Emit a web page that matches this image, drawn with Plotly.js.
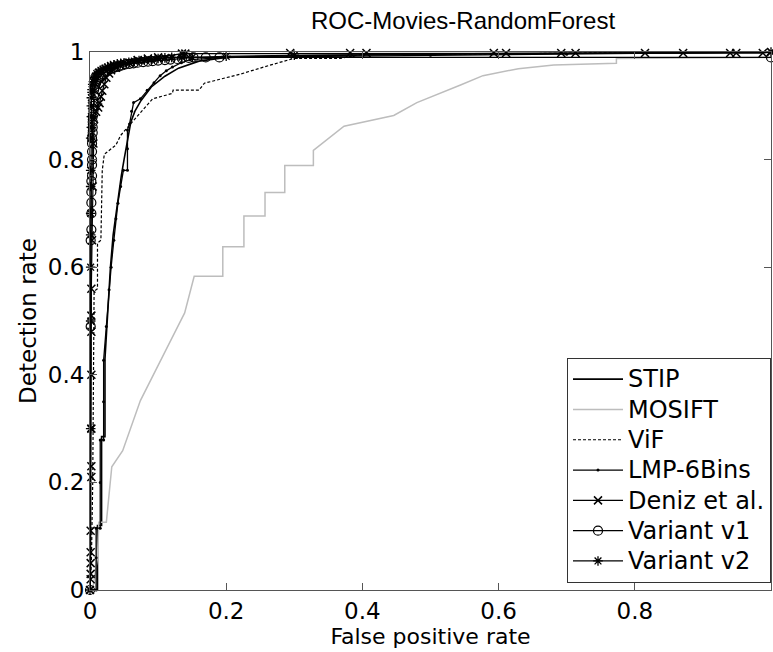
<!DOCTYPE html>
<html>
<head>
<meta charset="utf-8">
<script src="https://cdn.plot.ly/plotly-3.0.1.min.js"></script>
<style>html,body{margin:0;padding:0;background:#fff;}#chart{width:773px;height:652px;}</style>
</head>
<body>
<div id="chart"></div>
<script>
// ---- data ----
const tickVals = [0, 0.2, 0.4, 0.6, 0.8, 1];
const tickText = ['0', '0.2', '0.4', '0.6', '0.8', '1'];
const seriesNames = ['STIP', 'MOSIFT', 'ViF', 'LMP-6Bins', 'Deniz et al.', 'Variant v1', 'Variant v2'];

const stipX = [0, 0.011, 0.011, 0.017, 0.017, 0.022, 0.022, 0.026, 0.030, 0.034, 0.040, 0.046, 0.050, 0.056, 0.060, 0.066, 0.075, 0.090, 0.110, 0.130, 0.160, 0.200, 0.300, 0.500, 1];
const stipY = [0, 0, 0.120, 0.120, 0.285, 0.285, 0.430, 0.520, 0.600, 0.660, 0.720, 0.770, 0.800, 0.840, 0.870, 0.890, 0.910, 0.935, 0.955, 0.970, 0.983, 0.990, 0.993, 0.996, 1];

const mosiftX = [0, 0.005, 0.011, 0.013, 0.024, 0.032, 0.048, 0.074, 0.111, 0.139, 0.153, 0.195, 0.195, 0.226, 0.226, 0.257, 0.257, 0.286, 0.286, 0.328, 0.328, 0.373, 0.446, 0.480, 0.545, 0.577, 0.629, 0.681, 0.773, 0.773, 1.0, 1];
const mosiftY = [0, 0.010, 0.060, 0.126, 0.126, 0.229, 0.259, 0.352, 0.445, 0.515, 0.583, 0.583, 0.638, 0.638, 0.695, 0.695, 0.739, 0.739, 0.789, 0.789, 0.817, 0.862, 0.882, 0.906, 0.939, 0.956, 0.969, 0.976, 0.979, 0.988, 0.990, 1];

const vifX = [0, 0.002, 0.004, 0.005, 0.006, 0.011, 0.011, 0.016, 0.018, 0.021, 0.038, 0.045, 0.053, 0.069, 0.092, 0.121, 0.122, 0.160, 0.168, 0.221, 0.263, 0.299, 0.367, 0.400, 0.600, 0.700, 1];
const vifY = [0, 0.050, 0.200, 0.400, 0.555, 0.560, 0.645, 0.650, 0.780, 0.810, 0.827, 0.845, 0.857, 0.880, 0.913, 0.923, 0.929, 0.929, 0.942, 0.959, 0.975, 0.988, 0.988, 0.996, 0.996, 0.998, 1];

const lmpX = [0, 0.009, 0.009, 0.009, 0.015, 0.015, 0.015, 0.020, 0.020, 0.020, 0.024, 0.028, 0.031, 0.035, 0.038, 0.041, 0.045, 0.049, 0.055, 0.055, 0.055, 0.058, 0.061, 0.064, 0.074, 0.084, 0.094, 0.103, 0.112, 0.121, 0.134, 0.147, 0.200, 0.350, 0.500, 0.700, 1];
const lmpY = [0, 0, 0.060, 0.115, 0.115, 0.200, 0.279, 0.279, 0.350, 0.427, 0.490, 0.558, 0.600, 0.650, 0.690, 0.719, 0.750, 0.780, 0.780, 0.820, 0.855, 0.866, 0.890, 0.906, 0.913, 0.929, 0.943, 0.956, 0.965, 0.972, 0.980, 0.986, 0.990, 0.992, 0.994, 0.996, 1];

const denizX = [0, 0.001, 0.001, 0.001, 0.001, 0.001, 0.002, 0.002, 0.002, 0.002, 0.002, 0.002, 0.002, 0.003, 0.004, 0.005, 0.006, 0.009, 0.012, 0.014, 0.016, 0.018, 0.021, 0.024, 0.028, 0.031, 0.038, 0.045, 0.058, 0.070, 0.085, 0.100, 0.135, 0.140, 0.294, 0.382, 0.406, 0.593, 0.611, 0.692, 0.713, 0.815, 0.871, 0.940, 0.949, 0.988, 1];
const denizY = [0, 0.020, 0.030, 0.050, 0.070, 0.110, 0.210, 0.230, 0.300, 0.400, 0.480, 0.510, 0.560, 0.650, 0.750, 0.830, 0.875, 0.889, 0.897, 0.905, 0.917, 0.928, 0.940, 0.952, 0.960, 0.966, 0.971, 0.975, 0.980, 0.985, 0.988, 0.990, 0.997, 0.997, 0.998, 0.998, 0.998, 0.998, 0.998, 0.998, 0.998, 0.998, 0.998, 0.998, 0.998, 0.998, 1];

const v1X = [0, 0.001, 0.001, 0.002, 0.002, 0.002, 0.002, 0.002, 0.003, 0.003, 0.003, 0.003, 0.003, 0.003, 0.004, 0.004, 0.004, 0.004, 0.005, 0.005, 0.005, 0.006, 0.006, 0.007, 0.008, 0.009, 0.010, 0.012, 0.014, 0.016, 0.019, 0.022, 0.026, 0.030, 0.034, 0.038, 0.042, 0.047, 0.052, 0.058, 0.064, 0.070, 0.078, 0.085, 0.092, 0.100, 0.110, 0.118, 0.128, 0.135, 0.145, 0.152, 0.170, 0.190, 1];
const v1Y = [0, 0.490, 0.650, 0.670, 0.700, 0.720, 0.740, 0.760, 0.770, 0.790, 0.800, 0.815, 0.830, 0.840, 0.850, 0.860, 0.870, 0.880, 0.890, 0.900, 0.910, 0.920, 0.930, 0.935, 0.940, 0.943, 0.946, 0.950, 0.953, 0.956, 0.959, 0.962, 0.965, 0.968, 0.970, 0.972, 0.973, 0.975, 0.977, 0.978, 0.979, 0.980, 0.981, 0.982, 0.983, 0.984, 0.985, 0.986, 0.987, 0.988, 0.989, 0.990, 0.990, 0.990, 0.990];

const v2X = [0, 0.001, 0.001, 0.001, 0.001, 0.001, 0.001, 0.001, 0.001, 0.002, 0.002, 0.002, 0.002, 0.003, 0.003, 0.004, 0.005, 0.006, 0.007, 0.008, 0.010, 0.012, 0.013, 0.016, 0.019, 0.022, 0.026, 0.030, 0.035, 0.040, 0.045, 0.050, 0.057, 0.065, 0.072, 0.080, 0.090, 0.100, 0.110, 0.120, 0.135, 0.150, 0.200, 0.300, 1];
const v2Y = [0, 0.300, 0.500, 0.600, 0.660, 0.700, 0.750, 0.780, 0.840, 0.860, 0.880, 0.900, 0.915, 0.925, 0.930, 0.940, 0.945, 0.950, 0.953, 0.955, 0.960, 0.962, 0.963, 0.966, 0.968, 0.970, 0.972, 0.975, 0.976, 0.978, 0.979, 0.980, 0.981, 0.983, 0.984, 0.985, 0.986, 0.988, 0.989, 0.990, 0.990, 0.990, 0.992, 0.994, 1];

// ---- traces ----
const SANS = '"Liberation Sans", Arial, Helvetica, sans-serif';
const WIDE = '"DejaVu Sans", "Liberation Sans", Arial, sans-serif';
const legendLabel = s => '<span style="font-size:24px">' + s + '</span>';
const traces = [
  {x: stipX, y: stipY, mode: 'lines', line: {color: '#000', width: 1.6}},
  {x: mosiftX, y: mosiftY, mode: 'lines', line: {color: '#bdbdbd', width: 1.5}},
  {x: vifX, y: vifY, mode: 'lines', line: {color: '#000', width: 1.2, dash: '3px,2px'}},
  {x: lmpX, y: lmpY, mode: 'lines+markers', line: {color: '#000', width: 1.3},
   marker: {symbol: 'circle', size: 3, color: '#000'}},
  {x: denizX, y: denizY, mode: 'lines+markers', line: {color: '#000', width: 1.2},
   marker: {symbol: 'x-thin-open', size: 8, color: '#000', line: {color: '#000', width: 1.5}}},
  {x: v1X, y: v1Y, mode: 'lines+markers', line: {color: '#000', width: 1.2},
   marker: {symbol: 'circle-open', size: 9, color: '#000', line: {color: '#000', width: 1.2}}},
  {x: v2X, y: v2Y, mode: 'lines+markers', line: {color: '#000', width: 1.2},
   marker: {symbol: 'asterisk-open', size: 8, color: '#000', line: {color: '#000', width: 1.3}}}
];
traces.forEach((t, i) => { t.type = 'scatter'; t.cliponaxis = false; t.name = legendLabel(seriesNames[i]); });

const axisCommon = {
  range: [0, 1], tickvals: tickVals, ticktext: tickText,
  ticks: 'inside', ticklen: 7, tickwidth: 1, tickcolor: '#555',
  showline: true, linecolor: '#555', linewidth: 1, mirror: 'ticks',
  showgrid: false, zeroline: false, fixedrange: true,
  tickfont: {family: WIDE, size: 23, color: '#000'}
};

const layout = {
  width: 773, height: 652,
  margin: {l: 90, r: 2, t: 52, b: 62},
  paper_bgcolor: '#fff', plot_bgcolor: '#fff',
  font: {family: SANS, color: '#000'},
  title: {text: 'ROC-Movies-RandomForest', font: {family: SANS, size: 24, color: '#000'},
          x: 0.599, xanchor: 'center', y: 0.968, yanchor: 'middle'},
  xaxis: Object.assign({}, axisCommon, {title: {text: 'False positive rate', font: {family: WIDE, size: 22}, standoff: 2}}),
  yaxis: Object.assign({}, axisCommon, {title: {text: 'Detection rate', font: {family: WIDE, size: 23}, standoff: 4}}),
  showlegend: true,
  legend: {x: 1, xanchor: 'right', y: 0.013, yanchor: 'bottom',
           bgcolor: '#fff', bordercolor: '#333', borderwidth: 1, itemwidth: 50,
           font: {family: WIDE, size: 21, color: '#000'}, tracegroupgap: 0}
};

Plotly.newPlot('chart', traces, layout, {displayModeBar: false, staticPlot: true});
</script>
</body>
</html>
